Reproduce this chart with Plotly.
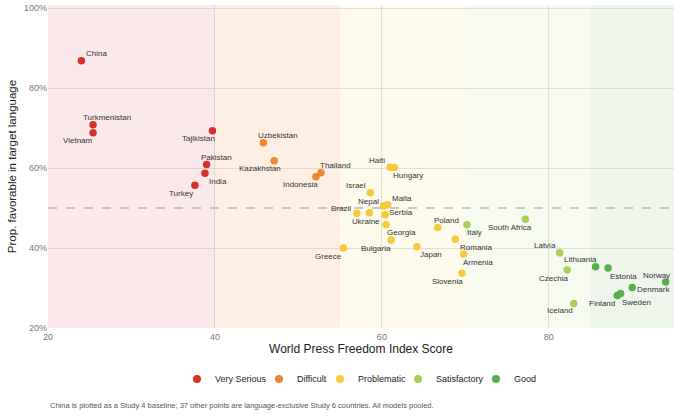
import plotly.graph_objects as go

# RSF press freedom categories and the score bands they cover
categories = ["Very Serious", "Difficult", "Problematic", "Satisfactory", "Good"]
cat_colors = ["#d7302b", "#ef8630", "#f6c93d", "#a7d056", "#58ad4f"]
band_edges = [20, 40, 55, 70, 85, 95]
band_fills = ["rgba(240,190,195,0.35)", "rgba(250,205,170,0.32)",
              "rgba(252,242,200,0.35)", "rgba(232,243,210,0.35)",
              "rgba(205,230,200,0.35)"]

countries = ["China", "Turkmenistan", "Vietnam", "Tajikistan", "Pakistan", "India", "Turkey",
             "Uzbekistan", "Kazakhstan", "Indonesia", "Thailand",
             "Haiti", "Hungary", "Israel", "Nepal", "Malta", "Brazil", "Ukraine", "Serbia",
             "Georgia", "Bulgaria", "Greece", "Japan", "Poland", "Romania", "Armenia", "Slovenia",
             "Italy", "South Africa", "Latvia", "Czechia", "Iceland",
             "Lithuania", "Estonia", "Denmark", "Finland", "Sweden", "Norway"]
wpfi = [24.0, 25.4, 25.4, 39.7, 39.0, 38.8, 37.6,
        45.8, 47.1, 52.1, 52.7,
        61.0, 61.5, 58.6, 60.2, 60.7, 57.0, 58.5, 60.4,
        60.5, 61.1, 55.4, 64.2, 66.7, 68.8, 69.8, 69.6,
        70.2, 77.2, 81.3, 82.2, 83.0,
        85.6, 87.1, 90.0, 88.2, 88.6, 94.0]
favorable = [0.868, 0.708, 0.688, 0.693, 0.609, 0.587, 0.557,
             0.663, 0.618, 0.578, 0.588,
             0.602, 0.601, 0.538, 0.505, 0.508, 0.487, 0.488, 0.483,
             0.458, 0.420, 0.400, 0.403, 0.451, 0.422, 0.385, 0.337,
             0.458, 0.472, 0.388, 0.345, 0.261,
             0.353, 0.350, 0.301, 0.281, 0.286, 0.315]
country_cat = [0] * 7 + [1] * 4 + [2] * 16 + [3] * 5 + [4] * 6

# repelled label offsets in pixels (x right, y up)
label_dx = [15, 14, -15, -14, 10, 13, -14,
            15, -14, -15, 15,
            -13, 14, -14, -15, 14, -16, -3, 16,
            15, -15, -15, 14, 9, 21, 14, -14,
            7, -15, -15, -14, -14,
            -15, 15, 21, -15, 16, -9]
label_dy = [7, 7, -8, -8, 7, -8, -8,
            7, -8, -8, 7,
            7, -8, 7, 5, 6, 5, -9, 2,
            -8, -8, -8, -8, 7, -8, -8, -8,
            -8, -8, 7, -8, -7,
            7, -8, -2, -8, -9, 7]

# legend row placement in paper coords (plot area is 626 x 323 px)
legend_dot_x = [0.2380, 0.3690, 0.4665, 0.5911, 0.7157]
legend_y = -0.158
legend_gap = 0.0248

fig = go.Figure()

for i, cat in enumerate(categories):
    idx = [k for k, c in enumerate(country_cat) if c == i]
    fig.add_trace(go.Scatter(
        x=[wpfi[k] for k in idx],
        y=[favorable[k] for k in idx],
        text=[countries[k] for k in idx],
        mode="markers",
        name=cat,
        marker=dict(color=cat_colors[i], size=7.5),
        cliponaxis=False,
        showlegend=False,
    ))

shapes = []
for i in range(len(categories)):
    shapes.append(dict(type="rect", xref="x", yref="paper",
                       x0=band_edges[i], x1=band_edges[i + 1], y0=0, y1=1,
                       fillcolor=band_fills[i], line_width=0, layer="below"))
shapes.append(dict(type="line", xref="paper", yref="y", x0=0, x1=1, y0=0.5, y1=0.5,
                   line=dict(color="#999999", width=1, dash="dash")))

annotations = [dict(
    text="China is plotted as a Study 4 baseline; 37 other points are language-exclusive "
         "Study 6 countries. All models pooled.",
    xref="paper", yref="paper", x=0, y=-0.241, xanchor="left", yanchor="middle",
    showarrow=False, font=dict(size=7.5, color="#555555"))]

# country labels next to their points
for k, name in enumerate(countries):
    annotations.append(dict(text=name, x=wpfi[k], y=favorable[k], xref="x", yref="y",
                            xshift=label_dx[k], yshift=label_dy[k],
                            xanchor="center", yanchor="middle", showarrow=False,
                            font=dict(size=8, color="#333333")))

# hand-built legend: a dot and a label for each category
for i, cat in enumerate(categories):
    shapes.append(dict(type="circle", xref="paper", yref="paper",
                       xsizemode="pixel", ysizemode="pixel",
                       xanchor=legend_dot_x[i], yanchor=legend_y,
                       x0=-4, x1=4, y0=-4, y1=4,
                       fillcolor=cat_colors[i], line_width=0))
    annotations.append(dict(text=cat, xref="paper", yref="paper",
                            x=legend_dot_x[i] + legend_gap, y=legend_y,
                            xanchor="left", yanchor="middle", showarrow=False,
                            font=dict(size=9, color="#222222")))

fig.update_layout(
    width=680, height=416,
    margin=dict(l=48, r=6, t=5, b=88),
    paper_bgcolor="white", plot_bgcolor="white",
    font=dict(family="Liberation Sans, Arial, sans-serif", color="#333333"),
    shapes=shapes,
    annotations=annotations,
    showlegend=False,
)

fig.update_xaxes(range=[20, 95], tickvals=[20, 40, 60, 80], automargin=False,
                 showgrid=True, gridcolor="rgba(190,190,190,0.45)", zeroline=False,
                 tickfont=dict(size=9, color="#777777"), ticks="", showline=False,
                 ticklabelstandoff=2, ticklabeloverflow="allow",
                 title=dict(text="World Press Freedom Index Score",
                            font=dict(size=12, color="#222222"), standoff=3))
fig.update_yaxes(range=[0.2, 1.0075], tickvals=[0.2, 0.4, 0.6, 0.8, 1.0], tickformat=".0%",
                 automargin=False, ticklabeloverflow="allow",
                 showgrid=True, gridcolor="rgba(190,190,190,0.45)", zeroline=False,
                 tickfont=dict(size=9, color="#777777"), ticks="", showline=False,
                 title=dict(text="Prop. favorable in target language",
                            font=dict(size=11.5, color="#222222"), standoff=4))

# drop the browser's default body margin so the figure sits at the window's corner
fig.write_html("out.html", config={"displayModeBar": False},
               post_script="document.body.style.margin = '0';")
